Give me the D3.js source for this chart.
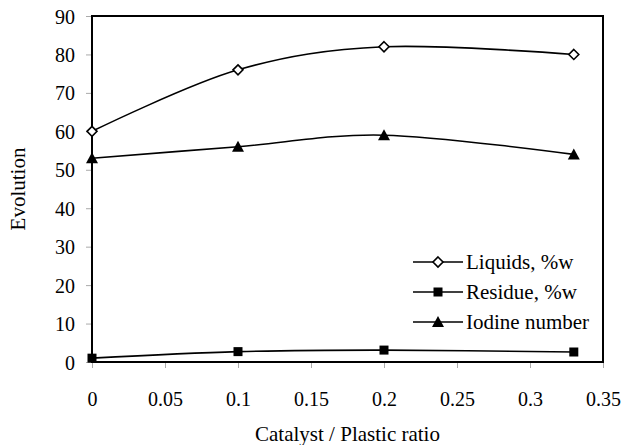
<!DOCTYPE html>
<html>
<head>
<meta charset="utf-8">
<script src="https://cdn.jsdelivr.net/npm/d3@7"></script>
<style>
  html, body { margin: 0; padding: 0; background: #fff; }
  svg { display: block; }
  text { font-family: "Liberation Serif", "Times New Roman", serif; fill: #000; }
</style>
</head>
<body>
<svg id="chart" width="624" height="445"></svg>
<script>
// Catalyst / plastic ratio on the x axis
const ratios = [0, 0.1, 0.2, 0.33];

// Measured series
const liquids = [60, 76, 82, 80];
const residue = [1, 2.7, 3.1, 2.6];
const iodine = [53, 56, 59, 54];

const seriesNames = ["Liquids, %w", "Residue, %w", "Iodine number"];
const markerKinds = ["diamond", "square", "triangle"];

const xTicks = [0, 0.05, 0.1, 0.15, 0.2, 0.25, 0.3, 0.35];
const yTicks = [0, 10, 20, 30, 40, 50, 60, 70, 80, 90];

const svg = d3.select("#chart");
const m = { left: 92, top: 16, right: 603, bottom: 362 };

const x = d3.scaleLinear().domain([0, 0.35]).range([m.left, m.right]);
const y = d3.scaleLinear().domain([0, 90]).range([m.bottom, m.top]);

// Tick marks and labels
const xAxis = svg.append("g")
  .attr("transform", `translate(0,${m.bottom})`)
  .call(d3.axisBottom(x).tickValues(xTicks).tickSize(6).tickPadding(24)
    .tickFormat(d => String(+d.toFixed(2))));
const yAxis = svg.append("g")
  .attr("transform", `translate(${m.left},0)`)
  .call(d3.axisLeft(y).tickValues(yTicks).tickSize(6).tickPadding(11));

[xAxis, yAxis].forEach(g => {
  g.select(".domain").remove();
  g.selectAll(".tick line").attr("stroke", "#aaa").attr("stroke-width", 1);
  g.selectAll(".tick text").style("font-size", "20px")
    .style("font-family", "'Liberation Serif', serif").attr("fill", "#000");
});
yAxis.selectAll(".tick text").attr("dy", "0.35em");

// Plot frame
svg.append("rect")
  .attr("x", m.left).attr("y", m.top)
  .attr("width", m.right - m.left).attr("height", m.bottom - m.top)
  .attr("fill", "none").attr("stroke", "#000").attr("stroke-width", 2);

// Axis titles
svg.append("text")
  .attr("x", (m.left + m.right) / 2).attr("y", 441)
  .attr("text-anchor", "middle").style("font-size", "21px")
  .text("Catalyst / Plastic ratio");
svg.append("text")
  .attr("transform", `translate(25,${(m.top + m.bottom) / 2}) rotate(-90)`)
  .attr("text-anchor", "middle").style("font-size", "21px")
  .text("Evolution");

// Marker drawing
function drawMarker(g, kind, cx, cy) {
  if (kind === "diamond") {
    const r = 5;
    g.append("path")
      .attr("d", `M${cx},${cy - r}L${cx + r},${cy}L${cx},${cy + r}L${cx - r},${cy}Z`)
      .attr("fill", "#fff").attr("stroke", "#000").attr("stroke-width", 1.6);
  } else if (kind === "square") {
    const s = 9;
    g.append("rect").attr("x", cx - s / 2).attr("y", cy - s / 2)
      .attr("width", s).attr("height", s).attr("fill", "#000");
  } else {
    g.append("path")
      .attr("d", `M${cx},${cy - 6}L${cx + 6},${cy + 5}L${cx - 6},${cy + 5}Z`)
      .attr("fill", "#000");
  }
}

const allSeries = [liquids, residue, iodine];
const line = d3.line()
  .x((d, i) => x(ratios[i]))
  .y(d => y(d))
  .curve(d3.curveCardinal.tension(0));

allSeries.forEach((vals, si) => {
  const g = svg.append("g");
  g.append("path").datum(vals).attr("d", line)
    .attr("fill", "none").attr("stroke", "#000").attr("stroke-width", 1.6);
  vals.forEach((v, i) => drawMarker(g, markerKinds[si], x(ratios[i]), y(v)));
});

// Legend
const legendRows = [262, 292, 322];
seriesNames.forEach((name, si) => {
  const g = svg.append("g");
  const ly = legendRows[si];
  g.append("line").attr("x1", 413).attr("x2", 463).attr("y1", ly).attr("y2", ly)
    .attr("stroke", "#000").attr("stroke-width", 1.6);
  drawMarker(g, markerKinds[si], 438, ly);
  g.append("text").attr("x", 466).attr("y", ly).attr("dy", "0.35em")
    .style("font-size", "21px").text(name);
});
</script>
</body>
</html>
